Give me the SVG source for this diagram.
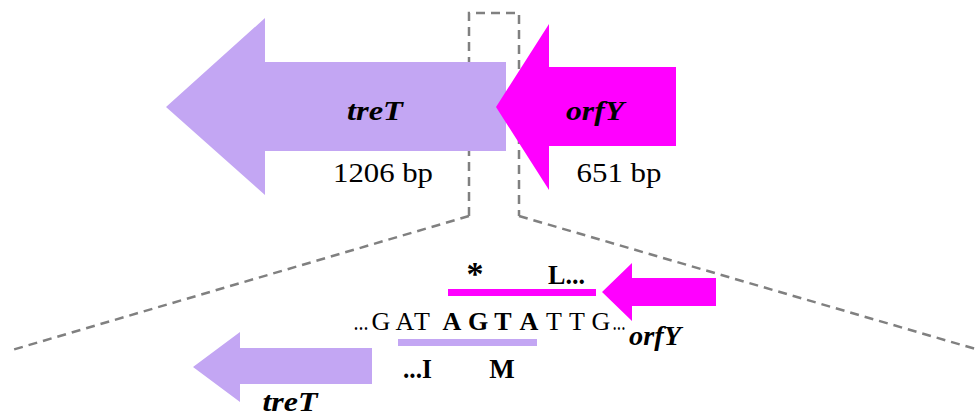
<svg xmlns="http://www.w3.org/2000/svg" width="979" height="416" viewBox="0 0 979 416">
  <style>
    .lav { fill: #c3a6f3; }
    .mag { fill: #ff00ff; }
    .dash { fill: none; stroke: #808080; stroke-width: 2.5; stroke-dasharray: 9 6; }
    .t { font-family: "Liberation Serif", "DejaVu Serif", serif; fill: #000; }
    .bi { font-weight: bold; font-style: italic; }
    .b { font-weight: bold; }
  </style>

  <!-- zoom connectors -->
  <g id="connectors">
    <path class="dash" d="M469,216 L469,13 L519,13 L519,216"/>
    <path class="dash" d="M469,216 L12,350"/>
    <path class="dash" d="M519,216 L979,350"/>
  </g>

  <!-- treT gene, full length -->
  <g id="treT-gene">
    <polygon class="lav" points="166,107 265,18 265,62 506,62 506,151 265,151 265,195"/>
    <text class="t bi" x="375" y="120" font-size="28" text-anchor="middle" textLength="56" lengthAdjust="spacingAndGlyphs">treT</text>
    <text class="t" x="383" y="182" font-size="28" text-anchor="middle" textLength="100" lengthAdjust="spacingAndGlyphs">1206 bp</text>
  </g>

  <!-- orfY gene, full length -->
  <g id="orfY-gene">
    <polygon class="mag" points="496,107 549,24 549,67 676,67 676,146 549,146 549,190"/>
    <text class="t bi" x="595" y="120" font-size="28" text-anchor="middle" textLength="58" lengthAdjust="spacingAndGlyphs">orfY</text>
    <text class="t" x="619" y="182" font-size="28" text-anchor="middle" textLength="85" lengthAdjust="spacingAndGlyphs">651 bp</text>
  </g>

  <!-- overlap detail: orfY end -->
  <g id="orfY-detail">
    <polygon class="mag" points="602,292 632,263 632,278 716,278 716,306 632,306 632,321"/>
    <rect class="mag" x="448" y="289" width="148" height="7"/>
    <text class="t b" x="475" y="285" font-size="34" text-anchor="middle">*</text>
    <text class="t b" x="548" y="284" font-size="27" textLength="37" lengthAdjust="spacingAndGlyphs">L...</text>
    <text class="t bi" x="629" y="345" font-size="28" textLength="52" lengthAdjust="spacingAndGlyphs">orfY</text>
  </g>

  <!-- overlap detail: nucleotide sequence -->
  <g id="sequence" class="t" font-size="26" text-anchor="middle">
    <text x="361" y="330" textLength="15" lengthAdjust="spacingAndGlyphs">...</text>
    <text x="381" y="330">G</text>
    <text x="405" y="330">A</text>
    <text x="422" y="330">T</text>
    <text class="b" x="452" y="330">A</text>
    <text class="b" x="478" y="330">G</text>
    <text class="b" x="503" y="330">T</text>
    <text class="b" x="529" y="330">A</text>
    <text x="554" y="330">T</text>
    <text x="577" y="330">T</text>
    <text x="601" y="330">G</text>
    <text x="619" y="330" textLength="13" lengthAdjust="spacingAndGlyphs">...</text>
  </g>

  <!-- overlap detail: treT start -->
  <g id="treT-detail">
    <rect class="lav" x="398" y="339" width="139" height="7"/>
    <text class="t b" x="403" y="378" font-size="27" textLength="29" lengthAdjust="spacingAndGlyphs">...I</text>
    <text class="t b" x="502" y="378" font-size="27" text-anchor="middle">M</text>
    <polygon class="lav" points="193,367 240,332 240,348 372,348 372,384 240,384 240,402"/>
    <text class="t bi" x="290" y="411" font-size="28" text-anchor="middle" textLength="55" lengthAdjust="spacingAndGlyphs">treT</text>
  </g>
</svg>
